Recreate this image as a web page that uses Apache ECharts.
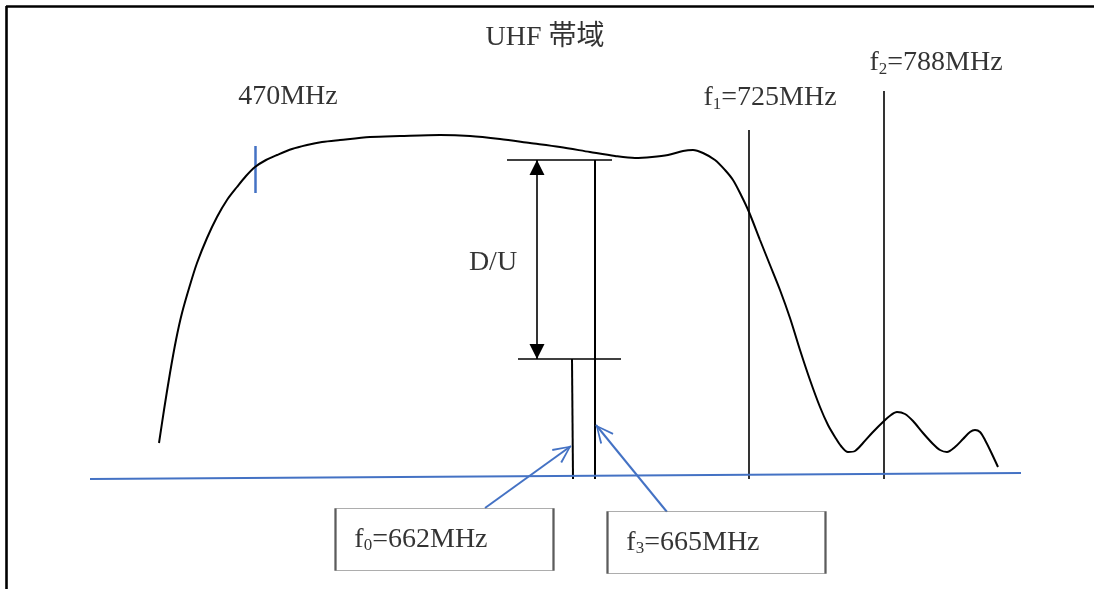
<!DOCTYPE html>
<html>
<head>
<meta charset="utf-8">
<script src="https://cdn.jsdelivr.net/npm/echarts@6/dist/echarts.min.js"></script>
<style>
html,body{margin:0;padding:0;background:#fff;}
#c{width:1094px;height:589px;}
</style>
</head>
<body>
<div id="c"></div>
<script>
// Diagram coordinates (x: 0..1094, y: 0..589 top-down)
const responseCurve = [
  [159,443],[164,410],[170,373],[176,340],[182,313],[190,285],[197,263],[207,238],
  [217,217],[227,200],[237,187],[246,176],[255,167],[266,160],[277,155],[292,149],
  [307,145],[322,142],[340,140],[370,137],[400,136],[440,135],[470,136],[500,139],
  [530,143],[560,147],[590,152],[615,156],[635,158],[652,157],[668,155],[683,151],
  [693,150],[703,153],[715,160],[725,170],[733,180],[741,195],[749,212],[760,240],
  [770,265],[780,290],[790,318],[800,350],[810,380],[820,407],[828,425],[835,437],
  [841,446],[848,452],[855,451],[863,443],[872,433],[884,421],[891,415],[897,412],
  [905,414],[913,421],[923,433],[933,444],[940,450],[947,452],[955,447],[963,439],
  [970,432],[975,430],[980,432],[985,440],[991,452],[998,467]
];
const blackSegments = [
  {name:'f1', coords:[[749,130],[749,479]], w:1.6},
  {name:'f2', coords:[[884,91],[884,479]], w:1.6},
  {name:'f3', coords:[[595,160],[595,479]], w:2},
  {name:'f0', coords:[[572,359],[573,479]], w:2},
  {name:'top', coords:[[507,160],[612,160]], w:1.6},
  {name:'bottom', coords:[[518,359],[621,359]], w:1.6}
];
const frameSegments = [
  {coords:[[6,6],[1094,6]]},
  {coords:[[6,6],[6,589]]}
];
const duArrow = [[537,160],[537,359]];
const blueSegments = [
  {name:'470tick', coords:[[255,146],[255,193]], w:2.5},
  {name:'baseline', coords:[[90,479],[1021,473]], w:2}
];
const blueArrows = [
  {name:'toF0', coords:[[485,508],[571,446]]},
  {name:'toF3', coords:[[667,512],[596,425]]}
];
const textLabels = [
  {value:[545,38], text:'UHF 帯域'},
  {value:[288,97], text:'470MHz'},
  {value:[770,98], text:'{m|f}{s|1}{m|=725MHz}'},
  {value:[936,63], text:'{m|f}{s|2}{m|=788MHz}'},
  {value:[493,263], text:'D/U'}
];
const boxLabels = [
  {value:[444.5,539.5], text:'{m|f}{s|0}{m|=662MHz}'},
  {value:[716.5,542.5], text:'{m|f}{s|3}{m|=665MHz}'}
];

const FONT = "'Liberation Serif','Noto Sans CJK JP',serif";
const FS = 28;
const BLUE = '#4472C4';
const rich = {
  m:{fontFamily:FONT,fontSize:FS,color:'#000',lineHeight:30},
  s:{fontFamily:FONT,fontSize:17,color:'#000',lineHeight:18,verticalAlign:'bottom'}
};
// tip at the centre of the symbol box, body on the inner side
const triPath = 'path://M10,20 L20,40 L0,40 Z M10,0 L10,0 Z';
const chevPath = 'path://M0,40 L10,20 L20,40 L18,41 L10,24 L2,41 Z M10,0 L10,0 Z';

const chart = echarts.init(document.getElementById('c'));
chart.setOption({
  animation:false,
  backgroundColor:'#fff',
  grid:{left:0,right:0,top:0,bottom:0,containLabel:false},
  xAxis:{type:'value',min:0,max:1094,show:false},
  yAxis:{type:'value',min:0,max:589,inverse:true,show:false},
  series:[
    {type:'lines',coordinateSystem:'cartesian2d',silent:true,
     lineStyle:{color:'#000',width:2.6,opacity:1},
     data:frameSegments},
    {type:'line',data:responseCurve,smooth:0.3,showSymbol:false,
     lineStyle:{color:'#000',width:2},z:3},
    {type:'lines',coordinateSystem:'cartesian2d',
     data:blackSegments.map(s=>({coords:s.coords,lineStyle:{width:s.w}})),
     lineStyle:{color:'#000',opacity:1}},
    {type:'lines',coordinateSystem:'cartesian2d',
     symbol:[triPath,triPath],symbolSize:[[15,30],[15,30]],
     data:[{coords:duArrow}],
     lineStyle:{color:'#000',width:1.6,opacity:1},itemStyle:{color:'#000'}},
    {type:'lines',coordinateSystem:'cartesian2d',
     data:blueSegments.map(s=>({coords:s.coords,lineStyle:{width:s.w}})),
     lineStyle:{color:BLUE,opacity:1}},
    {type:'lines',coordinateSystem:'cartesian2d',
     symbol:['none',chevPath],symbolSize:[[17,36],[17,36]],
     data:blueArrows.map(a=>({coords:a.coords})),
     lineStyle:{color:BLUE,width:2,opacity:1},itemStyle:{color:BLUE}},
    {type:'scatter',symbol:'rect',symbolSize:[218,62],
     itemStyle:{color:'#fff',borderColor:'#333',borderWidth:1.2},
     data:boxLabels.map(b=>({value:b.value,text:b.text})),
     label:{show:true,position:'insideLeft',distance:20,color:'#000',
       formatter:p=>p.data.text,rich:rich},
     z:4},
    {type:'scatter',symbolSize:1,itemStyle:{color:'rgba(0,0,0,0)'},
     data:textLabels.map(t=>({value:t.value,text:t.text})),
     label:{show:true,position:'inside',color:'#000',fontFamily:FONT,fontSize:FS,
       formatter:p=>p.data.text,rich:rich},
     z:5}
  ]
});
</script>
</body>
</html>
